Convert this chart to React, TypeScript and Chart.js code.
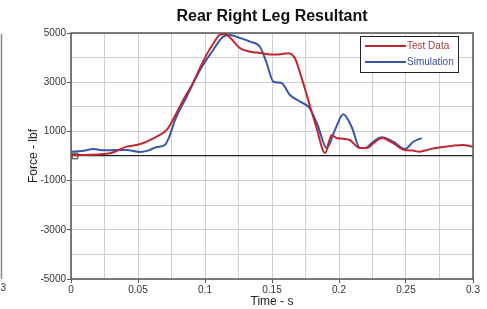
import React, { useEffect, useRef } from "react";
import { Chart, registerables } from "chart.js";

Chart.register(...registerables);

const TITLE = "Rear Right Leg Resultant";
const X_TITLE = "Time - s";
const Y_TITLE = "Force - lbf";
const SERIES_NAMES = ["Test Data", "Simulation"];

const testTime = [0, 0.01, 0.02, 0.03, 0.0415, 0.049, 0.054, 0.06, 0.066, 0.0714, 0.076, 0.083, 0.091, 0.096, 0.101, 0.106, 0.111, 0.115, 0.119, 0.126, 0.1336, 0.141, 0.1485, 0.155, 0.162, 0.167, 0.171, 0.177, 0.183, 0.1896, 0.1945, 0.198, 0.203, 0.208, 0.2157, 0.2207, 0.226, 0.232, 0.24, 0.249, 0.255, 0.26, 0.268, 0.2776, 0.285, 0.2925, 0.3];
const testForce = [40, 40, 60, 120, 380, 450, 530, 680, 850, 1060, 1460, 2200, 2970, 3550, 4100, 4550, 4920, 4960, 4800, 4390, 4240, 4190, 4130, 4130, 4180, 3980, 3370, 2280, 1190, 120, 850, 730, 700, 650, 325, 325, 530, 730, 530, 240, 220, 175, 280, 365, 420, 450, 380];

const simTime = [0, 0.008, 0.0165, 0.025, 0.033, 0.0415, 0.0515, 0.058, 0.064, 0.07, 0.0735, 0.0776, 0.0863, 0.0963, 0.106, 0.1134, 0.1187, 0.126, 0.1336, 0.141, 0.146, 0.151, 0.157, 0.1634, 0.171, 0.178, 0.184, 0.1908, 0.197, 0.2032, 0.2094, 0.2157, 0.2194, 0.2256, 0.2318, 0.2405, 0.2493, 0.2554, 0.2617];
const simForce = [175, 200, 280, 230, 240, 245, 160, 230, 365, 450, 800, 1460, 2410, 3500, 4300, 4850, 4920, 4800, 4650, 4440, 3780, 3020, 2970, 2480, 2210, 1950, 1260, 325, 1060, 1700, 1190, 325, 325, 580, 760, 580, 285, 580, 730];

const markerTime = [0.003];
const markerForce = [0];

const X_MIN = 0, X_MAX = 0.3, X_STEP = 0.025;
const Y_MIN = -5000, Y_MAX = 5000, Y_STEP = 1000;

const RED = "#c0282f";
const BLUE = "#3856a8";

export default function App() {
  const ref = useRef<HTMLCanvasElement | null>(null);

  useEffect(() => {
    document.body.style.margin = "0";
    const canvas = ref.current!;
    const toPts = (xs: number[], ys: number[]) => xs.map((x, i) => ({ x, y: ys[i] }));

    const framePlugin = {
      id: "frame",
      afterDatasetsDraw(chart: any) {
        const { ctx, chartArea: a } = chart;
        ctx.save();
        ctx.strokeStyle = "#555";
        ctx.lineWidth = 1.5;
        ctx.strokeRect(a.left, a.top, a.right - a.left, a.bottom - a.top);
        // legend box
        const lx = 360, ly = 36, lw = 98, lh = 36;
        ctx.fillStyle = "#fff";
        ctx.fillRect(lx, ly, lw, lh);
        ctx.strokeStyle = "#222";
        ctx.lineWidth = 1;
        ctx.strokeRect(lx + 0.5, ly + 0.5, lw, lh);
        const colors = [RED, BLUE];
        const textColors = ["#a83a3a", "#3a4f95"];
        ctx.font = "10px Arial, 'Liberation Sans', sans-serif";
        ctx.textBaseline = "middle";
        ctx.textAlign = "left";
        SERIES_NAMES.forEach((n, i) => {
          const y = ly + 10 + i * 16;
          ctx.strokeStyle = colors[i];
          ctx.lineWidth = 2;
          ctx.beginPath();
          ctx.moveTo(lx + 5, y);
          ctx.lineTo(lx + 46, y);
          ctx.stroke();
          ctx.fillStyle = textColors[i];
          ctx.fillText(n, lx + 47, y);
        });
        // title
        ctx.fillStyle = "#111";
        ctx.font = "bold 16px Arial, 'Liberation Sans', sans-serif";
        ctx.textAlign = "center";
        ctx.fillText(TITLE, (a.left + a.right) / 2, 17);
        // neighbouring chart fragment
        ctx.strokeStyle = "#888";
        ctx.lineWidth = 1.5;
        ctx.beginPath();
        ctx.moveTo(1.5, 34);
        ctx.lineTo(1.5, 279);
        ctx.stroke();
        ctx.fillStyle = "#333";
        ctx.font = "10px Arial, 'Liberation Sans', sans-serif";
        ctx.textAlign = "right";
        ctx.fillText("0.3", 6, 288);
        ctx.restore();
      },
    };

    const font = "Arial, 'Liberation Sans', sans-serif";

    const chart = new Chart(canvas, {
      type: "scatter",
      data: {
        datasets: [
          {
            label: SERIES_NAMES[0],
            data: toPts(testTime, testForce),
            showLine: true,
            borderColor: RED,
            backgroundColor: RED,
            borderWidth: 2,
            pointRadius: 0,
            cubicInterpolationMode: "monotone",
          },
          {
            label: SERIES_NAMES[1],
            data: toPts(simTime, simForce),
            showLine: true,
            borderColor: BLUE,
            backgroundColor: BLUE,
            borderWidth: 2,
            pointRadius: 0,
            cubicInterpolationMode: "monotone",
          },
          {
            label: "marker",
            data: toPts(markerTime, markerForce),
            showLine: false,
            pointStyle: "rect",
            pointRadius: 4,
            borderColor: "#333",
            backgroundColor: "rgba(0,0,0,0)",
            borderWidth: 1,
          },
        ],
      },
      options: {
        animation: false,
        responsive: false,
        maintainAspectRatio: false,
        layout: { padding: { top: 33, right: 14, bottom: 0, left: 0 } },
        plugins: {
          legend: { display: false },
          title: { display: false },
          tooltip: { enabled: false },
        },
        scales: {
          x: {
            type: "linear",
            min: X_MIN,
            max: X_MAX,
            afterFit: (s: any) => { s.height = 30; },
            ticks: {
              stepSize: X_STEP,
              autoSkip: false,
              maxRotation: 0,
              padding: 1,
              color: "#333",
              font: { family: font, size: 10 },
              callback: (v: any) => {
                const n = Math.round(Number(v) * 1000);
                return n % 50 === 0 ? String(n / 1000) : "";
              },
            },
            grid: {
              color: "#d0d0d0",
              lineWidth: 1,
              tickLength: 4,
              tickColor: (c: any) => (c.tick && Math.round(c.tick.value * 1000) % 50 === 0 ? "#555" : "rgba(0,0,0,0)"),
            },
            border: { display: false },
            title: {
              display: true,
              text: X_TITLE,
              color: "#222",
              font: { family: font, size: 12 },
              padding: { top: 0, bottom: 0 },
            },
          },
          y: {
            type: "linear",
            min: Y_MIN,
            max: Y_MAX,
            afterFit: (s: any) => { s.width = 71; },
            ticks: {
              stepSize: Y_STEP,
              autoSkip: false,
              padding: 1,
              color: "#333",
              font: { family: font, size: 10 },
              callback: (v: any) => {
                const n = Math.round(Number(v));
                return (n - Y_MIN) % 2000 === 0 ? String(n) : "";
              },
            },
            grid: {
              color: (c: any) => (c.tick && c.tick.value === 0 ? "#222" : "#d0d0d0"),
              lineWidth: (c: any) => (c.tick && c.tick.value === 0 ? 1.2 : 1),
              tickLength: 4,
              tickColor: (c: any) => (c.tick && (Math.round(c.tick.value) - Y_MIN) % 2000 === 0 ? "#555" : "rgba(0,0,0,0)"),
            },
            border: { display: false },
            title: {
              display: true,
              text: Y_TITLE,
              color: "#222",
              font: { family: font, size: 12 },
              padding: { top: 26, bottom: 0 },
            },
          },
        },
      },
      plugins: [framePlugin],
    });
    return () => chart.destroy();
  }, []);

  return (
    <div style={{ width: 487, height: 309, background: "#fff" }}>
      <canvas ref={ref} width={487} height={309} style={{ display: "block" }} />
    </div>
  );
}
